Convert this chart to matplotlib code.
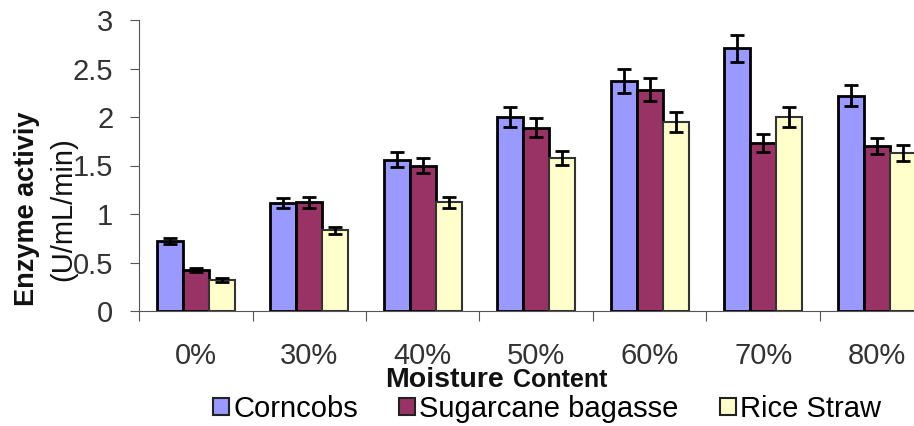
import numpy as np
import matplotlib.pyplot as plt
from matplotlib.patches import Patch

plt.rcParams['font.family'] = ['Liberation Sans', 'DejaVu Sans']

# data
moisture = ['0%', '30%', '40%', '50%', '60%', '70%', '80%']
corncobs = [0.72, 1.11, 1.56, 2.00, 2.37, 2.71, 2.22]
sugarcane = [0.42, 1.12, 1.50, 1.89, 2.28, 1.73, 1.70]
rice_straw = [0.32, 0.83, 1.12, 1.58, 1.95, 2.00, 1.63]
corncobs_err = [0.03, 0.05, 0.08, 0.10, 0.12, 0.14, 0.11]
sugarcane_err = [0.02, 0.06, 0.08, 0.10, 0.12, 0.09, 0.08]
rice_straw_err = [0.02, 0.04, 0.06, 0.07, 0.10, 0.10, 0.08]

series = [
    ('Corncobs', corncobs, corncobs_err, '#9999FF', 'black'),
    ('Sugarcane bagasse', sugarcane, sugarcane_err, '#993366', 'black'),
    ('Rice Straw', rice_straw, rice_straw_err, '#FFFFCC', '#333333'),
]

fig = plt.figure(figsize=(9.14, 4.26), dpi=100)
# axes runs past the right edge, the original is cropped there
ax = fig.add_axes([139 / 914, 1 - 311 / 426, 7 * 113.5 / 914, 291 / 426])

x = np.arange(len(moisture))
w = 0.23
for i, (name, vals, errs, col, edge) in enumerate(series):
    ax.bar(x + (i - 1) * w, vals, w, color=col, edgecolor=edge,
           linewidth=2 if edge == 'black' else 1.5, zorder=2)
    ax.errorbar(x + (i - 1) * w, vals, yerr=errs, fmt='none', ecolor='black',
                elinewidth=2, capsize=5, capthick=2, zorder=3)

ax.set_xlim(-0.5, len(moisture) - 0.5)
ax.set_ylim(0, 3)
ax.set_yticks([0, 0.5, 1, 1.5, 2, 2.5, 3])
ax.set_yticklabels(['0', '0.5', '1', '1.5', '2', '2.5', '3'])
ax.set_xticks(np.arange(len(moisture) + 1) - 0.5)
ax.set_xticklabels([])
ax.set_xticks(x, minor=True)
ax.set_xticklabels(moisture, minor=True)
ax.tick_params(axis='x', which='minor', length=0, pad=22, labelsize=21, labelcolor='#333333')
ax.tick_params(axis='x', which='major', length=7, color='#555555')
ax.tick_params(axis='y', length=6.5, color='#555555', labelsize=21, labelcolor='#333333', pad=12)

for s in ['top', 'right']:
    ax.spines[s].set_visible(False)
for s in ['left', 'bottom']:
    ax.spines[s].set_color('#555555')

fig.text(0.030, 0.51, 'Enzyme activiy', rotation=90, ha='center', va='center',
         fontsize=19.5, fontweight='bold', color='#111111')
fig.text(0.069, 0.51, '(U/mL/min)', rotation=90, ha='center', va='center',
         fontsize=21, color='#111111')

fig.text(385 / 914, 1 - 387 / 426, 'Moisture', ha='left', va='baseline', fontsize=20.5,
         fontweight='bold', color='#111111')
fig.text(513 / 914, 1 - 387 / 426, 'Content', ha='left', va='baseline', fontsize=18,
         fontweight='bold', color='#111111')

handles = [Patch(facecolor=c, edgecolor='#222222', linewidth=1.5) for _, _, _, c, _ in series]
fig.legend(handles, [s[0] for s in series], loc='center', bbox_to_anchor=(547 / 914, 0.04),
           ncol=3, frameon=False, fontsize=21, handlelength=0.55, handleheight=0.55,
           handletextpad=0.15, columnspacing=1.4, borderpad=0)

fig.savefig('out.png', dpi=100)
